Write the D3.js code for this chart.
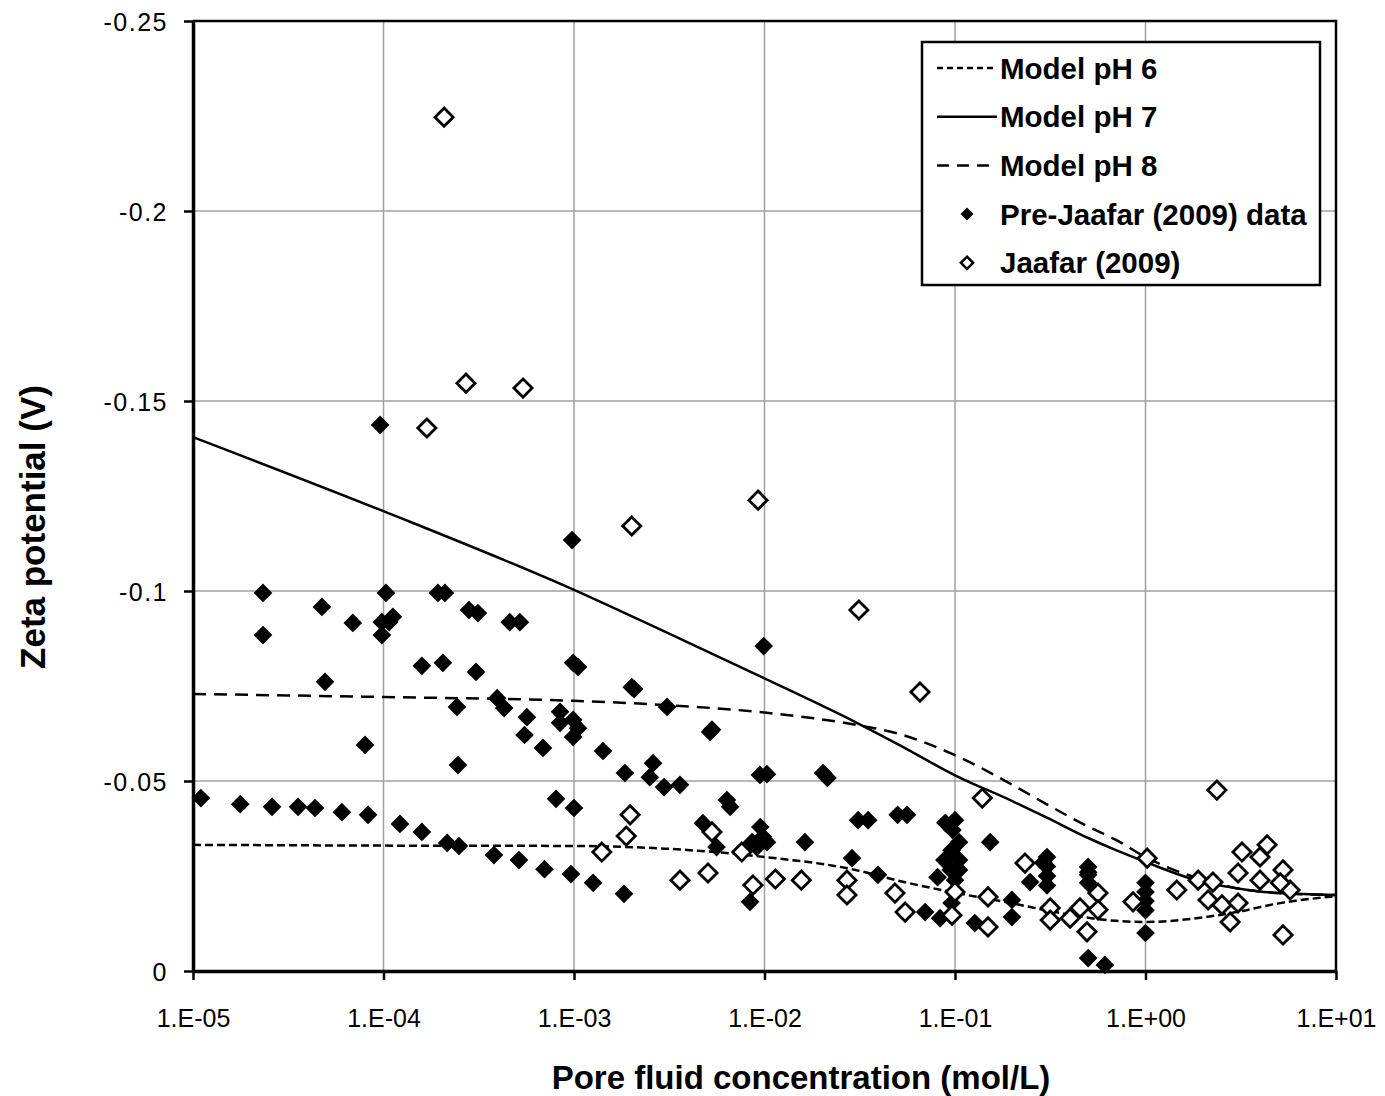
<!DOCTYPE html>
<html>
<head>
<meta charset="utf-8">
<script src="https://cdn.jsdelivr.net/npm/d3@7"></script>
<style>
    body { margin: 0; background: #fff; }
    svg text { font-family: "Liberation Sans", Arial, sans-serif; fill: #000; }
</style>
</head>
<body>
<div id="chart"></div>
<script>
// ---- data ----
const xTickValues = [1e-5, 1e-4, 1e-3, 1e-2, 1e-1, 1, 10];
const xTickLabels = ["1.E-05", "1.E-04", "1.E-03", "1.E-02", "1.E-01", "1.E+00", "1.E+01"];
const yTickValues = [0, -0.05, -0.1, -0.15, -0.2, -0.25];
const yTickLabels = ["0", "-0.05", "-0.1", "-0.15", "-0.2", "-0.25"];

// model curves (mol/L, V)
const modelConc = [1e-5, 1e-4, 1e-3, 3e-3, 1e-2, 3e-2, 5e-2, 0.1, 0.2, 0.3, 0.5, 0.7, 1, 2, 3, 5, 10];
const modelPH6 = [-0.0332, -0.0330, -0.0329, -0.0322, -0.0300, -0.0266, -0.0238, -0.0206, -0.0178, -0.0160, -0.0140, -0.0132, -0.0129, -0.0141, -0.0155, -0.0178, -0.0197];
const modelPH7 = [-0.1405, -0.1210, -0.1003, -0.0893, -0.0770, -0.0655, -0.0597, -0.0515, -0.0447, -0.0405, -0.0350, -0.0318, -0.0287, -0.0234, -0.0218, -0.0205, -0.0200];
const modelPH8 = [-0.0729, -0.0721, -0.0711, -0.0700, -0.0680, -0.0648, -0.0625, -0.0568, -0.0490, -0.0440, -0.0380, -0.0345, -0.0300, -0.0240, -0.0218, -0.0205, -0.0200];

// Pre-Jaafar (2009) data
const preConc = [
    1.1e-5, 1.77e-5, 2.6e-5, 3.56e-5, 4.37e-5, 6.05e-5, 8.3e-5, 1.22e-4, 1.59e-4, 2.16e-4, 2.49e-4, 3.8e-4, 5.14e-4, 7.0e-4, 9.64e-4, 1.26e-3, 1.83e-3,
    9.6e-5, 9.77e-4, 9.9e-3, 2.33e-5, 2.33e-5, 4.75e-5, 6.9e-5, 1.03e-4, 9.8e-5, 9.8e-5, 1.12e-4, 1.07e-4, 1.93e-4, 2.1e-4, 2.81e-4, 3.13e-4, 4.6e-4, 5.2e-4,
    1.59e-4, 2.05e-4, 3.06e-4, 9.9e-4, 1.05e-3, 4.93e-5, 8.0e-5, 2.43e-4, 2.46e-4, 3.95e-4, 4.3e-4, 5.66e-4, 5.5e-4, 6.87e-4, 8.45e-4, 8.45e-4, 9.9e-4, 1.05e-3, 9.9e-4,
    1.42e-3, 1.85e-3, 2.6e-3, 2.5e-3, 2.01e-3, 2.07e-3, 8.05e-4, 1.0e-3, 3.08e-3, 5.18e-3, 5.3e-3, 2.97e-3, 3.6e-3, 9.46e-3, 1.03e-2, 2.03e-2, 2.14e-2, 6.35e-3, 6.6e-3,
    4.75e-3, 5.6e-3, 8.4e-3, 9.5e-3, 9.8e-3, 8.6e-3, 1.03e-2, 9.1e-3, 1.63e-2, 2.88e-2, 3.1e-2, 3.5e-2, 3.94e-2, 5.0e-2, 5.6e-2, 6.97e-2, 8.35e-2, 8.9e-2,
    0.1, 0.097, 0.105, 0.096, 0.088, 0.105, 0.095, 0.105, 0.081, 0.1, 0.096, 0.153, 0.199, 0.199, 0.127, 0.248,
    0.29, 0.304, 0.304, 0.304, 0.304, 0.5, 0.5, 0.5, 0.5, 0.5, 0.612, 1.0, 1.0, 1.0, 1.0, 1.0
];
const preZeta = [
    -0.0455, -0.0439, -0.0432, -0.0432, -0.0429, -0.0418, -0.0411, -0.0387, -0.0366, -0.0337, -0.0329, -0.0305, -0.0292, -0.0268, -0.0255, -0.0232, -0.0203,
    -0.1437, -0.1134, -0.0855, -0.0995, -0.0884, -0.0958, -0.0916, -0.0995, -0.0918, -0.0884, -0.0932, -0.0918, -0.0995, -0.0995, -0.0950, -0.0942, -0.0918, -0.0918,
    -0.0803, -0.0811, -0.0787, -0.0811, -0.0800, -0.0761, -0.0595, -0.0695, -0.0542, -0.0718, -0.0692, -0.0668, -0.0621, -0.0587, -0.0682, -0.0653, -0.0661, -0.0639, -0.0616,
    -0.0579, -0.0521, -0.0547, -0.0510, -0.0747, -0.0742, -0.0453, -0.0429, -0.0695, -0.0629, -0.0635, -0.0484, -0.0490, -0.0516, -0.0518, -0.0521, -0.0508, -0.0450, -0.0432,
    -0.0389, -0.0326, -0.0182, -0.0379, -0.0353, -0.0339, -0.0339, -0.0326, -0.0339, -0.0297, -0.0397, -0.0397, -0.0253, -0.0411, -0.0411, -0.0155, -0.0139, -0.0390,
    -0.0397, -0.0371, -0.0339, -0.0318, -0.0292, -0.0292, -0.0266, -0.0266, -0.0247, -0.0239, -0.0179, -0.0339, -0.0187, -0.0142, -0.0126, -0.0234,
    -0.0285, -0.0300, -0.0275, -0.0250, -0.0225, -0.0274, -0.0260, -0.0253, -0.0232, -0.0034, -0.0016, -0.0232, -0.0208, -0.0184, -0.0160, -0.0100
];

// Jaafar (2009)
const jaafarConc = [
    2.08e-4, 1.69e-4, 2.71e-4, 5.4e-4, 2.01e-3, 9.25e-3, 3.13e-2, 6.55e-2, 0.139, 2.37, 1.02,
    1.4e-3, 1.97e-3, 1.88e-3, 3.6e-3, 5.05e-3, 5.3e-3, 7.6e-3, 8.7e-3, 1.14e-2, 1.56e-2, 2.71e-2, 2.71e-2, 4.84e-2, 5.47e-2, 9.64e-2,
    0.1, 0.149, 0.149, 0.233, 0.316, 0.316, 0.402, 0.453, 0.493, 0.563, 0.563, 0.86,
    1.46, 1.89, 2.13, 2.26, 2.52, 2.78, 3.06, 3.06, 3.21, 3.99, 3.99, 4.35, 5.27, 5.74, 5.27, 5.1
];
const jaafarZeta = [
    -0.2247, -0.1429, -0.1547, -0.1534, -0.1171, -0.1239, -0.0950, -0.0734, -0.0455, -0.0476, -0.0297,
    -0.0313, -0.0411, -0.0355, -0.0239, -0.0258, -0.0366, -0.0313, -0.0226, -0.0242, -0.0239, -0.0239, -0.0200, -0.0205, -0.0155, -0.0147,
    -0.0208, -0.0195, -0.0116, -0.0284, -0.0166, -0.0134, -0.0139, -0.0166, -0.0103, -0.0205, -0.0161, -0.0182,
    -0.0213, -0.0239, -0.0187, -0.0234, -0.0174, -0.0129, -0.0179, -0.0258, -0.0313, -0.0300, -0.0239, -0.0332, -0.0266, -0.0213, -0.0095, -0.0232
];

const legendLabels = ["Model pH 6", "Model pH 7", "Model pH 8", "Pre-Jaafar (2009) data", "Jaafar (2009)"];

// ---- layout ----
const MARGIN = { LEFT: 193, RIGHT: 49, TOP: 21, BOTTOM: 125 };
const WIDTH = 1385 - MARGIN.LEFT - MARGIN.RIGHT;
const HEIGHT = 1096 - MARGIN.TOP - MARGIN.BOTTOM;

const svg = d3.select("#chart").append("svg")
    .attr("width", 1385)
    .attr("height", 1096);

const g = svg.append("g")
    .attr("transform", `translate(${MARGIN.LEFT}, ${MARGIN.TOP})`);

const x = d3.scaleLog().domain([1e-5, 10]).range([0, WIDTH]);
const y = d3.scaleLinear().domain([0, -0.25]).range([HEIGHT, 0]);

// square diamond (Excel style), size = area
const squareDiamond = {
    draw(ctx, size) {
        const r = Math.sqrt(size / 2);
        ctx.moveTo(0, -r);
        ctx.lineTo(r, 0);
        ctx.lineTo(0, r);
        ctx.lineTo(-r, 0);
        ctx.closePath();
    }
};

// gridlines
g.append("g").attr("class", "grid")
    .selectAll("line.v")
    .data(xTickValues)
    .join("line")
    .attr("x1", d => x(d)).attr("x2", d => x(d))
    .attr("y1", 0).attr("y2", HEIGHT)
    .attr("stroke", "#a0a0a0").attr("stroke-width", 1.5);

g.append("g").attr("class", "grid")
    .selectAll("line.h")
    .data(yTickValues)
    .join("line")
    .attr("x1", 0).attr("x2", WIDTH)
    .attr("y1", d => y(d)).attr("y2", d => y(d))
    .attr("stroke", "#a0a0a0").attr("stroke-width", 1.5);

// plot frame top / right
g.append("path")
    .attr("d", `M0,0H${WIDTH}V${HEIGHT}`)
    .attr("fill", "none")
    .attr("stroke", "#000")
    .attr("stroke-width", 2.5);

// model lines
const modelData = modelConc.map((c, i) => ({ c, ph6: modelPH6[i], ph7: modelPH7[i], ph8: modelPH8[i] }));
const lineStyles = [
    { key: "ph6", dash: "8,4" },
    { key: "ph7", dash: null },
    { key: "ph8", dash: "13,8" }
];
lineStyles.forEach(s => {
    g.append("path")
        .datum(modelData)
        .attr("fill", "none")
        .attr("stroke", "#000")
        .attr("stroke-width", 2.5)
        .attr("stroke-dasharray", s.dash)
        .attr("d", d3.line()
            .curve(d3.curveMonotoneX)
            .x(d => x(d.c))
            .y(d => y(d[s.key])));
});

// Pre-Jaafar filled diamonds
const preData = preConc.map((c, i) => ({ c, z: preZeta[i] }));
g.append("g")
    .selectAll("path")
    .data(preData)
    .join("path")
    .attr("transform", d => `translate(${x(d.c)}, ${y(d.z)})`)
    .attr("d", d3.symbol().type(squareDiamond).size(175))
    .attr("fill", "#000");

// Jaafar open diamonds
const jaafarData = jaafarConc.map((c, i) => ({ c, z: jaafarZeta[i] }));
g.append("g")
    .selectAll("path")
    .data(jaafarData)
    .join("path")
    .attr("transform", d => `translate(${x(d.c)}, ${y(d.z)})`)
    .attr("d", d3.symbol().type(squareDiamond).size(165))
    .attr("fill", "#fff")
    .attr("stroke", "#000")
    .attr("stroke-width", 2.8);

// axes
const xAxisCall = d3.axisBottom(x)
    .tickValues(xTickValues)
    .tickFormat((d, i) => xTickLabels[i])
    .tickSize(9)
    .tickSizeOuter(0)
    .tickPadding(29);
const xAxis = g.append("g")
    .attr("class", "x axis")
    .attr("transform", `translate(0, ${HEIGHT})`)
    .call(xAxisCall);

const yAxisCall = d3.axisLeft(y)
    .tickValues(yTickValues)
    .tickFormat((d, i) => yTickLabels[i])
    .tickSize(9)
    .tickSizeOuter(0)
    .tickPadding(16);
const yAxis = g.append("g")
    .attr("class", "y axis")
    .call(yAxisCall);

[xAxis, yAxis].forEach(a => {
    a.select(".domain").attr("stroke", "#000").attr("stroke-width", 3.5);
    a.selectAll(".tick line").attr("stroke", "#000").attr("stroke-width", 2.5);
    a.selectAll(".tick text")
        .style("font-family", "'Liberation Sans', Arial, sans-serif")
        .style("font-size", "25px")
        .attr("fill", "#000");
});
yAxis.selectAll(".tick text").attr("dy", "0.36em").style("letter-spacing", "1.5px");

// axis titles
svg.append("text")
    .attr("text-anchor", "middle")
    .attr("x", 801)
    .attr("y", 1089)
    .style("font-weight", "bold")
    .style("font-size", "33px")
    .text("Pore fluid concentration (mol/L)");

svg.append("text")
    .attr("text-anchor", "middle")
    .attr("transform", "translate(45, 527) rotate(-90)")
    .style("font-weight", "bold")
    .style("font-size", "35px")
    .text("Zeta potential (V)");

// legend
const legend = svg.append("g").attr("class", "legend");
legend.append("rect")
    .attr("x", 922).attr("y", 42)
    .attr("width", 398).attr("height", 243)
    .attr("fill", "#fff")
    .attr("stroke", "#000")
    .attr("stroke-width", 2.5);

const rowY = i => 68 + i * 48.7;

lineStyles.forEach((s, i) => {
    legend.append("line")
        .attr("x1", 937).attr("x2", 997)
        .attr("y1", rowY(i)).attr("y2", rowY(i))
        .attr("stroke", "#000")
        .attr("stroke-width", 2.5)
        .attr("stroke-dasharray", i === 0 ? "6,4" : s.dash ? "12,8" : null);
});

legend.append("path")
    .attr("transform", `translate(967, ${rowY(3)})`)
    .attr("d", d3.symbol().type(squareDiamond).size(85))
    .attr("fill", "#000");
legend.append("path")
    .attr("transform", `translate(967, ${rowY(4)})`)
    .attr("d", d3.symbol().type(squareDiamond).size(75))
    .attr("fill", "#fff")
    .attr("stroke", "#000")
    .attr("stroke-width", 2.5);

legend.selectAll("text")
    .data(legendLabels)
    .join("text")
    .attr("x", 1000)
    .attr("y", (d, i) => rowY(i))
    .attr("dy", "0.36em")
    .style("font-weight", "bold")
    .style("font-size", "29.5px")
    .text(d => d);
</script>
</body>
</html>
